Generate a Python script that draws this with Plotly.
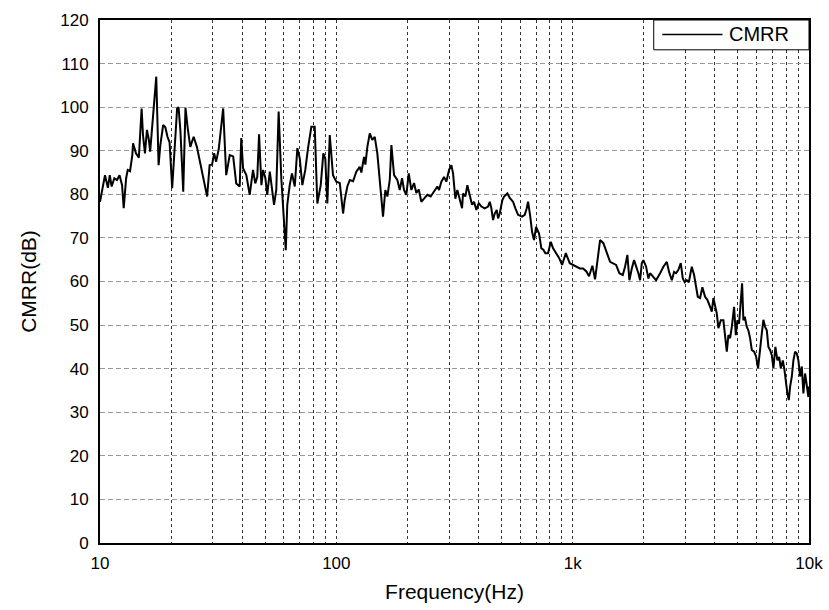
import plotly.graph_objects as go

# Common-mode rejection ratio measurement, frequency in Hz and CMRR in dB
freq_hz = [
    10.0, 10.5, 10.8, 11.0, 11.2, 11.5, 11.8, 12.1, 12.4, 12.6, 12.9, 13.1, 13.4, 13.7, 13.8,
    14.2, 14.6, 14.8, 15.0, 15.2, 15.5, 15.8, 16.1, 16.3, 16.6, 17.3, 17.7, 18.0, 18.5, 18.9,
    19.3, 19.7, 20.2, 20.6, 21.2, 21.5, 21.9, 22.5, 23.0, 23.5, 24.1, 24.9, 25.7, 28.4, 29.1,
    29.8, 30.4, 31.0, 31.8, 33.2, 34.2, 35.4, 36.6, 37.7, 39.0, 39.6, 40.3, 41.6, 43.0, 44.4,
    45.4, 46.3, 47.1, 48.2, 49.0, 50.1, 51.0, 52.3, 53.1, 54.5, 55.7, 57.0, 58.5, 60.1, 61.1,
    62.0, 63.5, 64.9, 66.7, 68.4, 70.0, 71.8, 73.9, 75.9, 78.4, 81.0, 83.1, 85.9, 88.1, 89.8,
    91.6, 93.8, 96.8, 100, 103.4, 106.8, 108.5, 111.3, 114.0, 117.7, 121.5, 125.6, 127.6, 131.0,
    132.7, 135.3, 138.5, 142.0, 145.4, 149.1, 152.6, 157.6, 161.2, 164.4, 168.3, 171.0, 175.5,
    181.2, 185.5, 189.7, 193.4, 197.8, 202.5, 207.7, 213.2, 218.0, 223.2, 228.9, 235.0, 242.7,
    250.8, 259.0, 267.5, 272.0, 278.2, 285.6, 292.1, 299.9, 306.7, 311.8, 318.8, 325.1, 332.8,
    340.4, 343.7, 351.5, 358.4, 366.9, 375.2, 382.6, 391.3, 400.5, 410.8, 424.6, 438.5, 445.9,
    452.8, 460.4, 468.1, 477.3, 483.4, 491.5, 504.1, 512.5, 529.3, 541.8, 559.5, 572.2, 587.4,
    610.8, 627.0, 639.3, 647.6, 660.2, 673.3, 686.4, 700.0, 720.8, 737.1, 751.6, 766.5, 786.8,
    808, 826.3, 853.1, 875.8, 902, 919.8, 935.2, 972.1, 1004, 1037, 1072, 1107, 1143, 1173,
    1212, 1244, 1306, 1349, 1394, 1440, 1527, 1576, 1629, 1666, 1704, 1738, 1779, 1819, 1897,
    1929, 1961, 1992, 2045, 2091, 2126, 2195, 2254, 2344, 2420, 2502, 2558, 2627, 2686, 2739,
    2801, 2867, 2924, 2981, 3040, 3100, 3192, 3264, 3328, 3384, 3460, 3539, 3633, 3715, 3815,
    3879, 3939, 4005, 4072, 4136, 4235, 4343, 4416, 4489, 4560, 4637, 4714, 4820, 4901, 4977,
    5060, 5145, 5211, 5277, 5349, 5455, 5540, 5633, 5727, 5857, 5972, 6090, 6210, 6314, 6412,
    6520, 6629, 6733, 6845, 6960, 7069, 7208, 7351, 7474, 7599, 7748, 7870, 7978, 8104, 8215,
    8318, 8458, 8590, 8734, 8879, 9019, 9169, 9323, 9469, 9627, 9788, 9942, 10000,
]
cmrr_db = [
    78.3, 84.4, 81.5, 84.4, 81.8, 83.7, 83.3, 84.4, 82.1, 76.8, 83.7, 85.6, 85.3, 89.0, 91.7,
    89.4, 88.4, 94.4, 99.7, 93.6, 89.4, 94.8, 92.5, 89.8, 95.2, 107.0, 86.7, 91.3, 95.9, 95.4,
    93.2, 91.9, 81.4, 88.3, 99.7, 100.0, 94.4, 80.6, 99.9, 95.2, 90.9, 93.2, 90.9, 79.5, 86.7,
    86.8, 89.4, 87.5, 90.4, 99.7, 84.4, 89.0, 88.7, 82.5, 81.8, 92.9, 86.0, 84.4, 79.9, 85.6,
    82.5, 84.0, 93.8, 82.1, 85.6, 83.7, 79.9, 85.2, 82.0, 77.6, 81.0, 99.0, 83.7, 72.2, 67.2,
    77.6, 82.1, 84.8, 81.8, 90.6, 88.3, 82.1, 85.6, 90.6, 95.5, 95.5, 77.9, 82.1, 89.4, 88.2,
    77.9, 93.6, 84.4, 82.9, 82.6, 75.6, 78.7, 81.8, 83.3, 83.0, 85.2, 86.3, 85.0, 88.6,
    86.8, 90.9, 94.0, 92.5, 93.2, 89.4, 83.3, 74.9, 81.0, 79.5, 83.3, 91.3, 84.4,
    83.3, 81.0, 83.7, 81.0, 79.9, 84.8, 81.0, 82.6, 80.3, 81.1, 78.3, 79.0, 79.9,
    79.5, 80.6, 81.8, 81.0, 82.9, 84.0, 82.9, 85.6, 86.7, 84.8, 79.0, 81.0, 78.7,
    76.8, 80.2, 79.5, 82.1, 79.9, 77.6, 78.3, 76.4, 78.0, 77.2, 76.8, 77.2, 78.3,
    76.8, 74.1, 75.6, 76.4, 74.5, 75.6, 78.7, 79.5, 80.2, 79.2, 78.3, 76.8, 75.3,
    74.9, 75.3, 76.8, 78.3, 75.3, 71.4, 69.5, 72.5, 71.0, 67.6, 67.3, 66.5, 66.5,
    69.1, 67.6, 66.5, 65.4, 63.8, 65.4, 66.5, 64.2, 63.8, 63.4, 63.0, 63.0, 62.3, 61.2,
    63.6, 60.5, 69.5, 68.8, 66.8, 64.5, 63.8, 61.9, 61.5, 63.4, 66.1, 60.3, 63.0, 64.9, 61.9,
    60.3, 64.2, 64.9, 63.4, 60.7, 61.9, 61.1, 60.3, 61.9, 63.4, 64.5, 62.2, 60.3, 62.2, 61.9,
    62.7, 64.2, 60.7, 59.8, 60.3, 59.8, 63.4, 61.5, 58.7, 56.5, 56.2, 58.7, 56.5, 55.8, 54.2,
    53.1, 56.2, 54.6, 52.7, 49.3, 51.1, 51.1, 48.1, 43.9, 47.7, 47.0, 49.6, 54.2, 47.7, 51.1,
    50.3, 55.0, 59.6, 51.1, 51.9, 49.6, 48.8, 47.0, 44.3, 43.9, 42.8, 40.1, 45.0, 48.1, 51.2,
    49.6, 48.8, 45.0, 44.3, 43.1, 40.1, 45.0, 41.9, 42.7, 40.1, 41.9, 39.8, 36.6, 34.3, 32.8,
    35.9, 38.2, 41.9, 43.9, 43.5, 41.9, 38.2, 40.5, 34.3, 38.9, 36.6, 33.5, 35.9,
]

series_name = "CMRR"
x_major = [10, 100, 1000, 10000]
x_major_text = ["10", "100", "1k", "10k"]
x_minor = [m * d for d in (10, 100, 1000) for m in range(2, 10)]
y_ticks = list(range(0, 121, 10))

font_family = "Liberation Sans, Arial, sans-serif"

fig = go.Figure()
fig.add_trace(go.Scatter(
    x=freq_hz, y=cmrr_db, mode="lines", name=series_name,
    line=dict(color="black", width=2), showlegend=False,
))

# Legend box drawn in the top-right corner of the plot area
fig.add_shape(type="rect", xref="paper", yref="paper",
              x0=0.781, x1=1.0, y0=0.943, y1=1.0,
              line=dict(color="black", width=1), fillcolor="white", layer="above")
fig.add_shape(type="line", xref="paper", yref="paper",
              x0=0.793, x1=0.878, y0=0.9725, y1=0.9725,
              line=dict(color="black", width=1.5), layer="above")
fig.add_annotation(text=series_name, xref="paper", yref="paper",
                   x=0.884, y=0.9725, xanchor="left", yanchor="middle",
                   showarrow=False, font=dict(size=20, color="black"))

fig.update_layout(
    width=829, height=610,
    margin=dict(l=100, r=20, t=20, b=67, autoexpand=False),
    paper_bgcolor="white", plot_bgcolor="white",
    font=dict(family=font_family, color="black", size=17),
    showlegend=False,
)

fig.update_xaxes(
    type="log", range=[1, 4], automargin=False,
    tickvals=x_major, ticktext=x_major_text,
    showgrid=True, gridcolor="#333333", griddash="3px,3px", gridwidth=1,
    minor=dict(tickvals=x_minor, showgrid=True, gridcolor="#333333",
               griddash="3px,3px", gridwidth=1, ticks=""),
    showline=True, linecolor="black", linewidth=2, mirror=True,
    ticks="", zeroline=False, ticklabelstandoff=4,
    title=dict(text="Frequency(Hz)", font=dict(size=21), standoff=12),
    tickfont=dict(size=17),
)
fig.update_yaxes(
    range=[0, 120], tickvals=y_ticks, automargin=False,
    showgrid=True, gridcolor="#999999", griddash="5px,3px", gridwidth=1,
    showline=True, linecolor="black", linewidth=2, mirror=True,
    ticks="", zeroline=False, ticklabelstandoff=6,
    title=dict(text="CMRR(dB)", font=dict(size=21), standoff=18),
    tickfont=dict(size=17),
)

fig.write_html("out.html")
